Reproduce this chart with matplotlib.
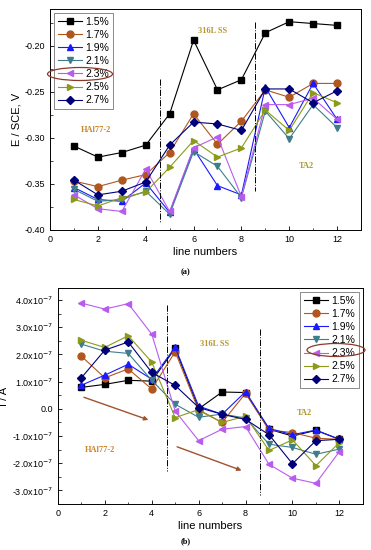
import matplotlib.pyplot as plt
import numpy as np
from matplotlib.patches import Ellipse
from matplotlib.ticker import MultipleLocator, FuncFormatter

plt.rcParams['font.family'] = ['Liberation Sans', 'DejaVu Sans']

lines = np.arange(1, 13)
labels = ['1.5%', '1.7%', '1.9%', '2.1%', '2.3%', '2.5%', '2.7%']

# (a) potential E / SCE, V
e_15 = [-0.309, -0.321, -0.316, -0.308, -0.274, -0.194, -0.248, -0.237, -0.186, -0.174, -0.176, -0.178]
e_17 = [-0.347, -0.353, -0.346, -0.340, -0.316, -0.274, -0.307, -0.282, -0.248, -0.256, -0.241, -0.241]
e_19 = [-0.354, -0.367, -0.369, -0.349, -0.381, -0.312, -0.352, -0.362, -0.245, -0.289, -0.241, -0.280]
e_21 = [-0.356, -0.369, -0.367, -0.358, -0.383, -0.315, -0.331, -0.365, -0.271, -0.301, -0.264, -0.289]
e_23 = [-0.362, -0.377, -0.380, -0.334, -0.380, -0.311, -0.299, -0.364, -0.264, -0.264, -0.257, -0.280]
e_25 = [-0.367, -0.374, -0.365, -0.359, -0.332, -0.303, -0.321, -0.311, -0.270, -0.292, -0.251, -0.262]
e_27 = [-0.346, -0.362, -0.358, -0.348, -0.308, -0.283, -0.285, -0.292, -0.247, -0.247, -0.262, -0.249]

# (b) current I / A, in units of 1e-7
i_15 = [0.79, 0.90, 1.05, 1.02, 2.23, 0.00, 0.62, 0.60, -0.75, -1.00, -0.79, -1.12]
i_17 = [1.94, 1.14, 1.47, 0.73, 2.10, -0.05, -0.50, 0.57, -0.78, -0.87, -1.08, -1.12]
i_19 = [0.87, 1.24, 1.64, 1.09, 2.27, 0.10, -0.20, 0.63, -0.72, -0.95, -0.78, -1.12]
i_21 = [2.38, 2.12, 2.04, 1.05, 0.17, -0.31, -0.19, -0.34, -1.30, -1.42, -1.67, -1.48]
i_23 = [3.89, 3.67, 3.87, 2.75, -0.08, -1.17, -0.75, -0.65, -2.04, -2.55, -2.74, -1.57]
i_25 = [2.52, 2.26, 2.69, 1.72, -0.32, -0.03, -0.50, -0.27, -1.53, -1.14, -2.09, -1.24]
i_27 = [1.14, 2.16, 2.46, 1.34, 0.86, 0.05, -0.20, -0.39, -0.95, -2.02, -1.17, -1.12]

colors = ['black', '#b0561e', '#1a1aff', '#3f7d8c', '#b85cf0', '#8c9a1a', '#00007a']
markers = ['s', 'o', '^', 'v', '<', '>', 'D']
sizes = [4.5, 5, 5, 5, 5, 5, 4.2]

fig = plt.figure(figsize=(3.71, 5.5), dpi=100)
ax1 = fig.add_axes([0.135, 0.582, 0.838, 0.402])
ax2 = fig.add_axes([0.156, 0.0836, 0.822, 0.393])

txt_kw = dict(family=['Liberation Serif'], fontweight='bold', fontsize=6)
leg_kw = dict(fontsize=7.5, frameon=True, fancybox=False, edgecolor='#555555',
              handlelength=2.3, labelspacing=0.3, borderaxespad=0.4,
              handletextpad=0.3, borderpad=0.35)

# ---- panel (a) ----
for ys, c, m, s, lab in zip([e_15, e_17, e_19, e_21, e_23, e_25, e_27], colors, markers, sizes, labels):
    ax1.plot(lines, ys, color=c, marker=m, markersize=s, linewidth=0.8, label=lab)
ax1.plot([4.6, 4.6], [-0.236, -0.391], color='black', linestyle='-.', linewidth=0.7)
ax1.plot([8.57, 8.57], [-0.174, -0.358], color='black', linestyle='-.', linewidth=0.7)
ax1.text(6.8, -0.184, '316L SS', color='#b8962e', ha='center', va='center', **txt_kw)
ax1.text(1.9, -0.292, 'HAl77-2', color='#c8862a', ha='center', va='center', **txt_kw)
ax1.text(10.7, -0.331, 'TA2', color='#a89a2e', ha='center', va='center', **txt_kw)
ax1.set_xlim(0, 13)
ax1.set_ylim(-0.40, -0.16)
ax1.xaxis.set_major_locator(MultipleLocator(2))
ax1.xaxis.set_minor_locator(MultipleLocator(1))
ax1.yaxis.set_major_locator(MultipleLocator(0.05))
ax1.yaxis.set_minor_locator(MultipleLocator(0.025))
ax1.yaxis.set_major_formatter(FuncFormatter(lambda v, p: f'{v:.2f}'))
ax1.set_xlabel('line numbers', fontsize=8, labelpad=2)
ax1.set_ylabel('E / SCE, V', fontsize=8, labelpad=2)
leg1 = ax1.legend(loc='upper left', **leg_kw)
leg1.get_frame().set_linewidth(0.6)
fig.text(0.5, 0.505, '(a)', ha='center', va='center', fontsize=6,
         family=['Liberation Serif'], fontweight='bold')
fig.add_artist(Ellipse((80 / 371, 1 - 74 / 550), 65 / 371, 13 / 550,
                       transform=fig.transFigure, fill=False,
                       edgecolor='#8b3a2a', linewidth=0.9))

# ---- panel (b) ----
for ys, c, m, s, lab in zip([i_15, i_17, i_19, i_21, i_23, i_25, i_27], colors, markers, sizes, labels):
    ax2.plot(lines, np.array(ys) * 1e-7, color=c, marker=m, markersize=s, linewidth=0.8, label=lab)
ax2.plot([4.65, 4.65], [3.83e-7, -2.27e-7], color='black', linestyle='-.', linewidth=0.7)
ax2.plot([8.63, 8.63], [2.93e-7, -3.17e-7], color='black', linestyle='-.', linewidth=0.7)
arrow_kw = dict(arrowstyle='-|>', color='#a0522d', lw=1.0, mutation_scale=6)
ax2.annotate('', xy=(3.97, -0.44e-7), xytext=(1.0, 0.46e-7), arrowprops=arrow_kw)
ax2.annotate('', xy=(7.94, -2.30e-7), xytext=(4.97, -1.36e-7), arrowprops=arrow_kw)
ax2.text(6.7, 2.4e-7, '316L SS', color='#b8962e', ha='center', va='center', **txt_kw)
ax2.text(10.5, -0.15e-7, 'TA2', color='#a89a2e', ha='center', va='center', **txt_kw)
ax2.text(1.8, -1.5e-7, 'HAl77-2', color='#c8862a', ha='center', va='center', **txt_kw)
ax2.set_xlim(0, 13)
ax2.set_ylim(-3.5e-7, 4.45e-7)
ax2.xaxis.set_major_locator(MultipleLocator(2))
ax2.xaxis.set_minor_locator(MultipleLocator(1))
ax2.yaxis.set_major_locator(MultipleLocator(1e-7))
ax2.yaxis.set_minor_locator(MultipleLocator(0.5e-7))


def cur_fmt(v, p):
    k = v * 1e7
    if abs(k) < 1e-6:
        return '0.0'
    return f'{k:.1f}x10$^{{-7}}$'


ax2.yaxis.set_major_formatter(FuncFormatter(cur_fmt))
ax2.set_xlabel('line numbers', fontsize=8, labelpad=2)
ax2.set_ylabel('I / A', fontsize=8, labelpad=2)
leg2 = ax2.legend(loc='upper right', **leg_kw)
leg2.get_frame().set_linewidth(0.6)
fig.text(0.5, 0.009, '(b)', ha='center', va='bottom', fontsize=6,
         family=['Liberation Serif'], fontweight='bold')
fig.add_artist(Ellipse((336 / 371, 1 - 350 / 550), 58 / 371, 13 / 550,
                       transform=fig.transFigure, fill=False,
                       edgecolor='#8b3a2a', linewidth=0.9))

for ax in (ax1, ax2):
    ax.tick_params(which='both', direction='in', top=False, right=False, labelsize=6.5)
    ax.tick_params(which='major', length=3, width=0.6)
    ax.tick_params(which='minor', length=1.8, width=0.5)
    for sp in ax.spines.values():
        sp.set_linewidth(0.7)

fig.savefig('out.png', dpi=100)
